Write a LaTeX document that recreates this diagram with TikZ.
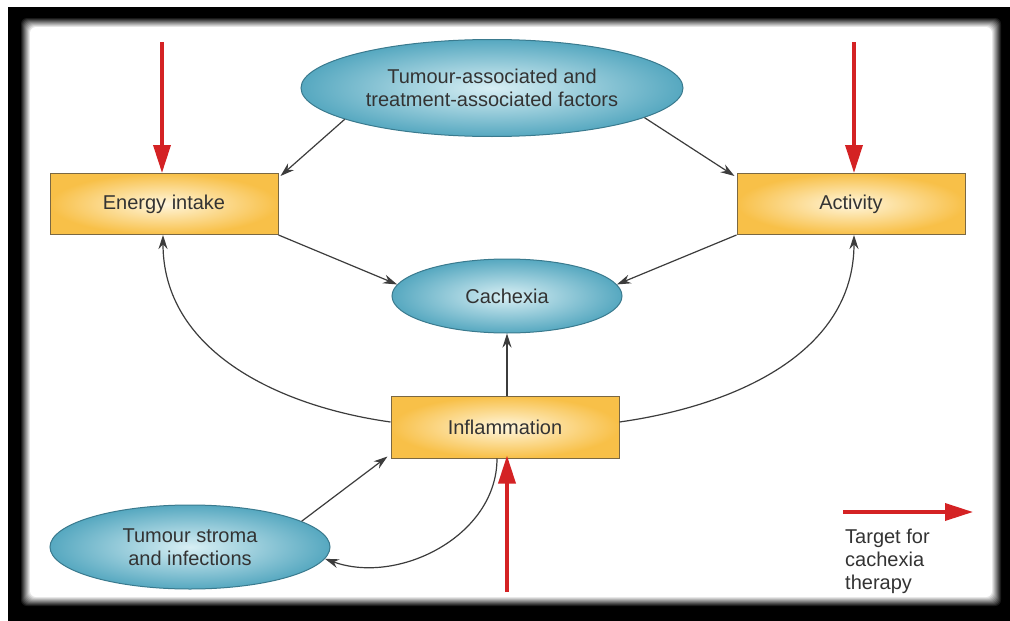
\documentclass[tikz,border=0pt]{standalone}
\usepackage{fontspec}
\setmainfont{Liberation Sans}
\usetikzlibrary{shapes.geometric,arrows.meta}
\definecolor{txt}{HTML}{333333}
\definecolor{ellout}{HTML}{56A8C0}
\definecolor{ellin}{HTML}{D8EFF4}
\definecolor{ellborder}{HTML}{3A7A8E}
\definecolor{boxout}{HTML}{F8C048}
\definecolor{boxin}{HTML}{FFF6DC}
\definecolor{boxborder}{HTML}{7A6843}
\definecolor{redarrow}{HTML}{D42224}
\definecolor{conn}{HTML}{3C3C3C}
\tikzset{
  lbl/.style={font=\fontsize{20}{23}\selectfont, text=txt, align=center},
  oval/.style={lbl, ellipse, draw=ellborder, line width=1pt, inner sep=0pt,
    inner color=ellin, outer color=ellout},
  factorbox/.style={lbl, rectangle, draw=boxborder, line width=1pt, inner sep=0pt,
    minimum width=228pt, minimum height=61pt, inner color=boxin, outer color=boxout},
  conarrow/.style={draw=conn, line width=1.2pt, -{Stealth[length=14pt,width=9pt]}},
  target/.style={draw=redarrow, line width=3.5pt, -{Triangle[length=28pt,width=17pt]}}
}
\begin{document}
\begin{tikzpicture}[x=1pt,y=-1pt]
\useasboundingbox (0,0) rectangle (1010,621);
\fill[white] (0,0) rectangle (1010,621);
\fill[black] (8,7) rectangle (1010,621);
\foreach \i in {0,...,10}{
  \pgfmathtruncatemacro\p{\i*10}
  \fill[white!\p!black, rounded corners=6pt] (20+\i,17+\i) rectangle (1002-\i,607-\i);
}

% nodes
\node[oval, minimum width=382pt, minimum height=97pt] (top) at (492,88)
  {Tumour-associated and\\treatment-associated factors};
\node[factorbox] (energy) at (164,204) {Energy intake};
\node[factorbox] (activity) at (851,204) {Activity};
\node[oval, minimum width=230pt, minimum height=74pt] (cach) at (507,296) {Cachexia};
\node[factorbox, minimum height=62pt] (infl) at (505,427) {Inflammation};
\node[oval, minimum width=280pt, minimum height=84pt] (stroma) at (190,547)
  {Tumour stroma\\and infections};
\node[lbl, align=left, anchor=north west, inner sep=0pt] (legend) at (845,529)
  {Target for\\cachexia\\therapy};

% connectors
\draw[conarrow] (top.192) -- ([xshift=2pt,yshift=-3pt]energy.north east);
\draw[conarrow] (top.-11) -- ([xshift=-2pt,yshift=-3pt]activity.north west);
\draw[conarrow] (energy.south east) -- (cach.174);
\draw[conarrow] (activity.south west) -- (cach.6);
\draw[conarrow] (infl.north -| cach.south) -- (cach.south);
\draw[conarrow] ([yshift=5pt]infl.west) to[out=172,in=-90] ([xshift=-1pt]energy.south);
\draw[conarrow] ([yshift=5pt]infl.east) to[out=8,in=-90] ([xshift=3pt]activity.south);
\draw[conarrow] (stroma.13) -- ([xshift=-3pt,yshift=2pt]infl.south west);
\draw[conarrow] ([xshift=-8pt]infl.south) to[out=-90,in=-20] (stroma.-5);

% red target arrows
\coordinate (r1) at (162,42);
\coordinate (r2) at (854,42);
\coordinate (r3) at (507,592);
\coordinate (l1) at (843,512);
\coordinate (l2) at (973,512);
\draw[target] (r1) -- (r1 |- energy.north);
\draw[target] (r2) -- (r2 |- activity.north);
\draw[target] (r3) -- ([yshift=3pt]r3 |- infl.south);
\draw[target] (l1) -- (l2);
\end{tikzpicture}
\end{document}
